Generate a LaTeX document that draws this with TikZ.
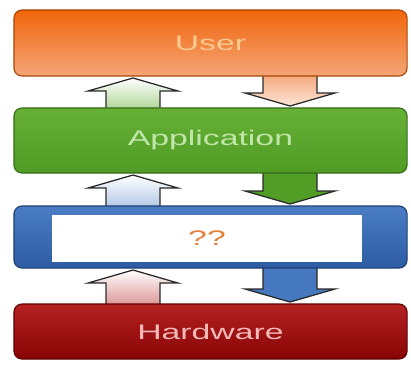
\documentclass[tikz,border=0pt]{standalone}
\usepackage{fontspec}
\setmainfont{Liberation Sans}
\usepackage{graphicx}
\usetikzlibrary{calc,backgrounds}
\definecolor{usertop}{HTML}{F1650A}
\definecolor{userbot}{HTML}{F4A577}
\definecolor{usertext}{HTML}{F8C98E}
\definecolor{apptop}{HTML}{66B036}
\definecolor{appbot}{HTML}{4F9B24}
\definecolor{apptext}{HTML}{C2E6AA}
\definecolor{midtop}{HTML}{4A7DC4}
\definecolor{midbot}{HTML}{2D5CA3}
\definecolor{hwtop}{HTML}{B52222}
\definecolor{hwbot}{HTML}{880404}
\definecolor{hwtext}{HTML}{F3B9B9}
\definecolor{qtext}{HTML}{E5803A}
\definecolor{arrowgrey}{HTML}{2A2A2A}
\tikzset{
  layerbox/.style={rectangle, rounded corners=0.2cm, minimum width=9.825cm,
    inner sep=0pt, outer sep=0pt, line width=0.8pt, font=\fontsize{15}{18}\selectfont},
  arrowline/.style={draw=arrowgrey, line width=0.9pt, line join=miter},
}
\newcommand{\wide}[1]{\scalebox{1.6}[1]{#1}}
% block arrow going up, from lower box #1 to upper box #2
\newcommand{\blockup}[3]{%
  \path[arrowline,#3] ($(#2.south -| lx)+(0,2)$) -- ++(45,13) -- ++(-18,0)
    -- ($(#1.north -| lx)+(27,3)$) -- ++(-54,0)
    -- ($(#2.south -| lx)+(-27,15)$) -- ++(-18,0) -- cycle;}
% block arrow going down, from upper box #1 to lower box #2
\newcommand{\blockdown}[3]{%
  \path[arrowline,#3] ($(#1.south -| rx)+(-27,-3)$) -- ($(#2.north -| rx)+(-27,-15)$)
    -- ++(-18,0) -- ($(#2.north -| rx)+(0,-2)$) -- ++(45,-13) -- ++(-18,0)
    -- ($(#1.south -| rx)+(27,-3)$) -- cycle;}

\begin{document}
\begin{tikzpicture}[x=0.025cm, y=-0.025cm]
    \useasboundingbox (0,0) rectangle (411,370);
    \coordinate (lx) at (133,0);
    \coordinate (rx) at (290,0);

    \node [layerbox, minimum height=1.65cm, draw=usertop!70!black,
      top color=usertop, bottom color=userbot, text=usertext] (user) at (210.5,43) {\wide{User}};
    \node [layerbox, minimum height=1.625cm, draw=appbot!70!black,
      top color=apptop, bottom color=appbot, text=apptext] (app) at (210.5,140.5) {\wide{Application}};
    \node [layerbox, minimum height=1.55cm, draw=midbot!70!black,
      top color=midtop, bottom color=midbot] (mid) at (210.5,237) {};
    \node [rectangle, fill=white, minimum width=7.75cm, minimum height=1.175cm, inner sep=0pt,
      font=\fontsize{15}{18}\selectfont, text=qtext] (unknown) at (207,238.5) {\wide{??}};
    \node [layerbox, minimum height=1.375cm, draw=hwbot!70!black,
      top color=hwtop, bottom color=hwbot, text=hwtext] (hw) at (210.5,331.5) {\wide{Hardware}};

    \begin{pgfonlayer}{background}
      \fill [white] (0,0) rectangle (411,370);
      \blockup{app}{user}{top color=white, bottom color=apptop!55!white}
      \blockdown{user}{app}{top color=userbot, bottom color=userbot!30!white}
      \blockup{mid}{app}{top color=white, bottom color=midtop!45!white}
      \blockdown{app}{mid}{fill=appbot!90!apptop}
      \blockup{hw}{mid}{top color=white, bottom color=hwtop!50!white}
      \blockdown{mid}{hw}{fill=midtop!85!midbot}
    \end{pgfonlayer}
\end{tikzpicture}
\end{document}
